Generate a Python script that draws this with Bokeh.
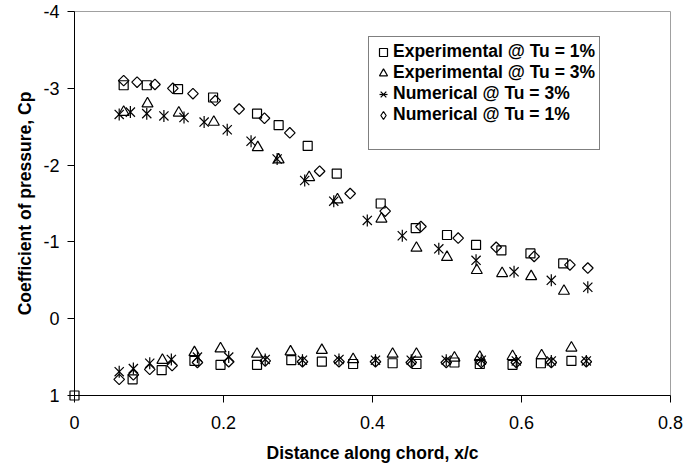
import math
from bokeh.plotting import figure
from bokeh.models import (Range1d, FixedTicker, CustomJSTickFormatter, Legend,
                          LegendItem)
from bokeh.embed import file_html
from bokeh.resources import INLINE

# ---------------- data ----------------
exp1_x = [0.000, 0.066, 0.097, 0.139, 0.186, 0.245, 0.274, 0.313, 0.352, 0.411,
          0.458, 0.500, 0.539, 0.573, 0.612, 0.656,
          0.078, 0.117, 0.161, 0.196, 0.245, 0.291, 0.332, 0.374, 0.427, 0.459,
          0.510, 0.544, 0.588, 0.626, 0.667]
exp1_y = [1.00, -3.04, -3.04, -2.99, -2.88, -2.67, -2.52, -2.25, -1.89, -1.50,
          -1.18, -1.09, -0.96, -0.89, -0.85, -0.72,
          0.79, 0.67, 0.55, 0.60, 0.60, 0.54, 0.56, 0.59, 0.58, 0.59,
          0.57, 0.59, 0.60, 0.58, 0.55]

exp3_x = [0.066, 0.098, 0.140, 0.187, 0.246, 0.274, 0.315, 0.353, 0.412, 0.459,
          0.500, 0.540, 0.574, 0.613, 0.657,
          0.118, 0.161, 0.196, 0.245, 0.290, 0.332, 0.374, 0.427, 0.459, 0.510,
          0.544, 0.588, 0.627, 0.667]
exp3_y = [-2.69, -2.80, -2.68, -2.56, -2.23, -2.07, -1.84, -1.55, -1.30, -0.92,
          -0.80, -0.63, -0.59, -0.55, -0.36,
          0.54, 0.44, 0.39, 0.46, 0.43, 0.41, 0.53, 0.46, 0.46, 0.51,
          0.50, 0.49, 0.48, 0.38]

num3_x = [0.060, 0.075, 0.097, 0.120, 0.147, 0.174, 0.205, 0.237, 0.272, 0.309,
          0.348, 0.393, 0.440, 0.489, 0.539, 0.590, 0.640, 0.689,
          0.060, 0.079, 0.101, 0.130, 0.165, 0.207, 0.256, 0.306, 0.355, 0.404,
          0.452, 0.499, 0.546, 0.593, 0.640, 0.687]
num3_y = [-2.66, -2.69, -2.67, -2.64, -2.62, -2.56, -2.46, -2.31, -2.08, -1.80,
          -1.53, -1.28, -1.08, -0.91, -0.76, -0.61, -0.50, -0.41,
          0.69, 0.65, 0.58, 0.53, 0.50, 0.50, 0.53, 0.54, 0.53, 0.54,
          0.54, 0.54, 0.54, 0.55, 0.55, 0.55]

num1_x = [0.066, 0.084, 0.108, 0.132, 0.159, 0.189, 0.221, 0.255, 0.289, 0.329,
          0.370, 0.417, 0.465, 0.515, 0.566, 0.617, 0.665, 0.689,
          0.060, 0.079, 0.101, 0.131, 0.165, 0.207, 0.256, 0.306, 0.355, 0.404,
          0.452, 0.499, 0.546, 0.593, 0.640, 0.687]
num1_y = [-3.10, -3.08, -3.05, -3.00, -2.93, -2.84, -2.73, -2.61, -2.42, -1.92,
          -1.63, -1.40, -1.20, -1.05, -0.93, -0.81, -0.70, -0.66,
          0.79, 0.73, 0.66, 0.61, 0.57, 0.56, 0.55, 0.56, 0.56, 0.56,
          0.57, 0.57, 0.57, 0.57, 0.57, 0.56]

series_labels = ["Experimental @ Tu = 1%", "Experimental @ Tu = 3%",
                 "Numerical @ Tu = 3%", "Numerical @ Tu = 1%"]

x_ticks = [0, 0.2, 0.4, 0.6, 0.8]
x_tick_labels = ["0", "0.2", "0.4", "0.6", "0.8"]
y_ticks = [-4, -3, -2, -1, 0, 1]
y_tick_labels = ["-4", "-3", "-2", "-1", "0", "1"]

x_title = "Distance along chord, x/c"
y_title = "Coefficient of pressure, Cp"

FONT = "Liberation Sans"

# ---------------- figure ----------------
p = figure(width=699, height=465, output_backend="svg", toolbar_location=None,
           x_range=Range1d(0, 0.8), y_range=Range1d(1, -4),
           min_border_left=74, min_border_right=29, min_border_top=11,
           min_border_bottom=70)
p.background_fill_color = "white"
p.border_fill_color = "white"
p.outline_line_color = "#a0a0a0"
p.outline_line_width = 1
p.grid.visible = False

fmt_code = """
for (let i = 0; i < tvals.length; i++) {
  if (Math.abs(tvals[i] - tick) < 1e-9) return tlabels[i];
}
return tick.toString();
"""
p.xaxis.ticker = FixedTicker(ticks=x_ticks)
p.yaxis.ticker = FixedTicker(ticks=y_ticks)
p.xaxis.formatter = CustomJSTickFormatter(args=dict(tvals=x_ticks, tlabels=x_tick_labels), code=fmt_code)
p.yaxis.formatter = CustomJSTickFormatter(args=dict(tvals=y_ticks, tlabels=y_tick_labels), code=fmt_code)

for ax in (p.xaxis[0], p.yaxis[0]):
    ax.axis_line_color = "black"
    ax.axis_line_width = 1
    ax.major_tick_line_color = "black"
    ax.major_tick_out = 7
    ax.major_tick_in = 0
    ax.minor_tick_line_color = None
    ax.major_label_text_font = FONT
    ax.major_label_text_font_size = "18px"
    ax.major_label_text_color = "black"
    ax.axis_label_text_font = FONT
    ax.axis_label_text_font_style = "bold"
    ax.axis_label_text_font_size = "17.5px"
    ax.axis_label_text_color = "black"

p.xaxis.axis_label = x_title
p.yaxis.axis_label = y_title
p.xaxis.major_label_standoff = 13
p.yaxis.major_label_standoff = 8
p.xaxis.axis_label_standoff = 11
p.yaxis.axis_label_standoff = 5

LW = 1.2
common = dict(line_color="black", line_width=LW, level="overlay")
r_sq = p.scatter(exp1_x, exp1_y, marker="square", size=9, fill_alpha=0, **common)
r_tri = p.scatter(exp3_x, exp3_y, marker="triangle", size=11, fill_alpha=0, **common)
r_st1 = p.scatter(num3_x, num3_y, marker="x", size=13, **common)
r_st2 = p.scatter(num3_x, num3_y, marker="dash", angle=math.pi / 2, size=12, **common)
r_dia = p.scatter(num1_x, num1_y, marker="square", angle=math.pi / 4, size=7.5,
                  fill_alpha=0, **common)

# legend keys: the legend draws its own key size, so these carry zero-size points
r_dia_key = p.scatter(num1_x, num1_y, marker="diamond", size=0, fill_alpha=0,
                      line_color="black", line_width=LW)
r_blank = p.scatter(num1_x, num1_y, marker="square", size=0, fill_alpha=0,
                    line_alpha=0)

legend = Legend(items=[
    LegendItem(label=series_labels[0], renderers=[r_sq]),
    LegendItem(label=series_labels[1], renderers=[r_tri]),
    LegendItem(label=series_labels[2], renderers=[r_st1, r_st2]),
    LegendItem(label=series_labels[3], renderers=[r_dia_key]),
    LegendItem(label=" ", renderers=[r_blank]),
], location=(294, 245))
legend.border_line_color = "black"
legend.border_line_width = 1
legend.background_fill_color = "white"
legend.background_fill_alpha = 1
legend.label_text_font = FONT
legend.label_text_font_style = "bold"
legend.label_text_font_size = "17.5px"
legend.label_text_color = "black"
legend.glyph_width = 20
legend.glyph_height = 20
legend.label_height = 20
legend.label_standoff = -2
legend.padding = 4
legend.spacing = 0
legend.margin = 0
p.add_layout(legend)

open("out.html", "w").write(file_html(p, INLINE))
